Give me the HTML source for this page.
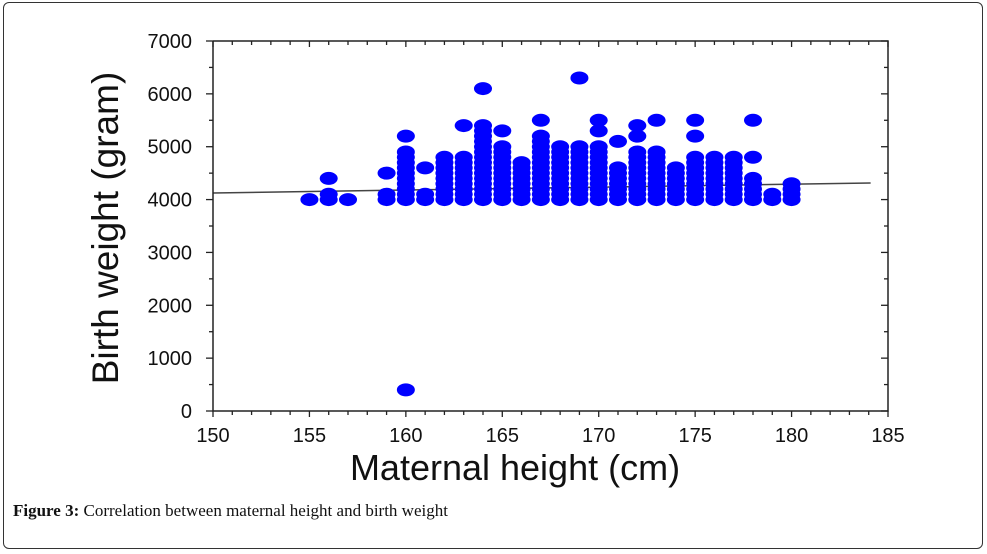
<!DOCTYPE html>
<html><head><meta charset="utf-8"><style>
html,body{margin:0;padding:0;background:#fff;}
#wrap{position:relative;width:987px;height:554px;overflow:hidden;}
#frame{position:absolute;left:3px;top:2px;width:980px;height:547px;border:1.5px solid #333;border-radius:6px;box-sizing:border-box;}
#cap{position:absolute;left:13px;top:501px;font-family:"Liberation Serif",serif;font-size:17px;color:#111;}
#cap b{font-weight:600;}
</style></head><body>
<div id="wrap">
<div id="frame"></div>
<svg id="chart" width="987" height="554" style="position:absolute;left:0;top:0"></svg>
<div id="cap"><b>Figure 3:</b> Correlation between maternal height and birth weight</div>
</div>
<script>
const heights=[155,156,157,159,160,161,162,163,164,165,166,167,168,169,170,171,172,173,174,175,176,177,178,179,180];
const lows=[4000,4000,4000,4000,4000,4000,4000,4000,4000,4000,4000,4000,4000,4000,4000,4000,4000,4000,4000,4000,4000,4000,4000,4000,4000];
const highs=[4000,4100,4000,4100,4900,4100,4800,4800,5400,5000,4700,5200,5000,5000,5000,4600,4900,4900,4600,4800,4800,4800,4400,4100,4300];
const outX=[156,159,160,160,161,163,164,165,167,169,170,170,171,172,172,173,175,175,178,178];
const outY=[4400,4500,5200,400,4600,5400,6100,5300,5500,6300,5300,5500,5100,5200,5400,5500,5200,5500,4800,5500];
const xTicks=[150,155,160,165,170,175,180,185];
const yTicks=[0,1000,2000,3000,4000,5000,6000,7000];
const fit=[[150,4125],[184.1,4313]];
const X0=213,X1=888,Y0=411,Y1=41;
const sx=v=>X0+(v-150)/35*(X1-X0);
const sy=v=>Y0-v/7000*(Y0-Y1);
const svg=document.getElementById('chart');
const NS='http://www.w3.org/2000/svg';
function mk(t,a){const e=document.createElementNS(NS,t);for(const k in a)e.setAttribute(k,a[k]);svg.appendChild(e);return e;}
let ln=mk('line',{x1:sx(fit[0][0]),y1:sy(fit[0][1]),x2:sx(fit[1][0]),y2:sy(fit[1][1]),stroke:'#444','stroke-width':1.5});


let ax=mk('path',{d:`M${X0},${Y1}V${Y0}H${X1}V${Y1}H${X0}`,fill:'none',stroke:'#222','stroke-width':1.5});


for(let v=150;v<=185;v++){const L=(v%5==0)?6:4;const x=sx(v);
mk('line',{x1:x,y1:Y0,x2:x,y2:Y0+L,stroke:'#222','stroke-width':1.3});
mk('line',{x1:x,y1:Y1,x2:x,y2:Y1+L,stroke:'#222','stroke-width':1.3});}
for(let v=0;v<=7000;v+=500){const L=(v%1000==0)?7:4;const y=sy(v);
mk('line',{x1:X0-L,y1:y,x2:X0,y2:y,stroke:'#222','stroke-width':1.3});
mk('line',{x1:X1,y1:y,x2:X1-L,y2:y,stroke:'#222','stroke-width':1.3});}
xTicks.forEach(v=>{const t=mk('text',{x:sx(v),y:442,'text-anchor':'middle','font-family':'Liberation Sans, sans-serif','font-size':20,fill:'#111'});t.textContent=v;

});
yTicks.forEach(v=>{const t=mk('text',{x:192,y:sy(v)+7,'text-anchor':'end','font-family':'Liberation Sans, sans-serif','font-size':20,fill:'#111'});t.textContent=v;

});
let xt=mk('text',{x:515,y:480,'text-anchor':'middle','font-family':'Liberation Sans, sans-serif','font-size':36,fill:'#111'});xt.textContent='Maternal height (cm)';


let yt=mk('text',{x:0,y:0,'text-anchor':'middle','font-family':'Liberation Sans, sans-serif','font-size':37,fill:'#111',transform:'translate(118,228) rotate(-90)'});yt.textContent='Birth weight (gram)';


function dot(x,y){const e=mk('ellipse',{cx:sx(x),cy:sy(y),rx:9,ry:6.5,fill:'#0000ff'});return e;}
heights.forEach((h,i)=>{for(let w=lows[i];w<=highs[i];w+=100){const d=dot(h,w);

}});
outX.forEach((h,i)=>{const d=dot(h,outY[i]);

});
</script>
</body></html>
